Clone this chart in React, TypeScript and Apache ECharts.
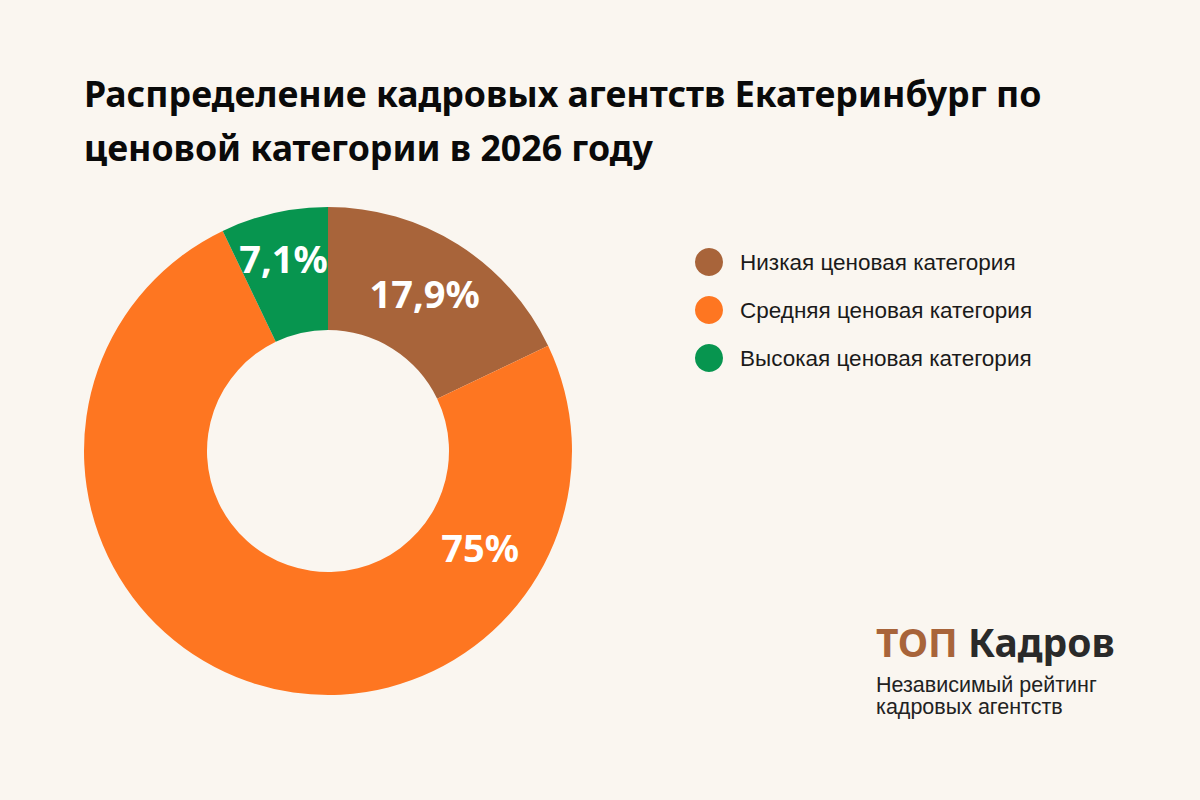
import React, { useEffect, useRef } from "react";
import * as echarts from "echarts";

const categories = [
  "Низкая ценовая категория",
  "Средняя ценовая категория",
  "Высокая ценовая категория",
];
const values = [17.9, 75, 7.1];
const valueLabels = ["17,9%", "75%", "7,1%"];
const colors = ["#A8643A", "#FE7621", "#07954F"];

const titleText =
  "Распределение кадровых агентств Екатеринбург по\nценовой категории в 2026 году";
const logoLines = ["Независимый рейтинг", "кадровых агентств"];

// label placement (angle in degrees, radius in px) for each slice
const labelAngles = [58.5, -32.3, 103];
const labelRadii = [185, 180, 198];

const CX = 328;
const CY = 451;

export default function App() {
  const ref = useRef<HTMLDivElement>(null);

  useEffect(() => {
    document.body.style.margin = "0";
    if (!ref.current) return;
    const chart = echarts.init(ref.current, undefined, { renderer: "svg" });
    chart.setOption({
      animation: false,
      backgroundColor: "#FAF6F0",
      title: {
        text: titleText,
        left: 84,
        top: 66,
        padding: 0,
        textStyle: {
          fontFamily: "Noto Sans",
          fontWeight: "bold",
          fontSize: 35.7,
          lineHeight: 54,
          color: "#0a0a0a",
        },
      },
      legend: {
        orient: "vertical",
        left: 695,
        top: 248,
        padding: 0,
        icon: "circle",
        itemWidth: 28,
        itemHeight: 28,
        itemGap: 20,
        textStyle: {
          fontFamily: "Liberation Sans",
          fontSize: 22.5,
          color: "#1a1a1a",
          padding: [0, 0, 0, 12],
        },
        data: categories,
      },
      series: [
        {
          type: "pie",
          center: [CX, CY],
          radius: [121, 244],
          startAngle: 90,
          clockwise: true,
          silent: true,
          data: categories.map((name, i) => ({
            name,
            value: values[i],
            itemStyle: { color: colors[i] },
            label: { formatter: valueLabels[i] },
          })),
          label: {
            show: true,
            position: "inside",
            color: "#ffffff",
            fontFamily: "Noto Sans",
            fontWeight: "bold",
            fontSize: 38,
          },
          labelLine: { show: false },
          labelLayout: (params: any) => {
            const i = params.dataIndex;
            const a = (labelAngles[i] * Math.PI) / 180;
            return {
              x: CX + labelRadii[i] * Math.cos(a),
              y: CY - labelRadii[i] * Math.sin(a),
              align: "center",
              verticalAlign: "middle",
            };
          },
        },
      ],
      graphic: [
        {
          type: "text",
          left: 876,
          top: 622,
          style: {
            text: "{a|ТОП}{s| }{b|Кадров}",
            rich: {
              a: {
                fontFamily: "Noto Sans",
                fontWeight: "bold",
                fontSize: 39,
                fill: "#A8643A",
              },
              s: {
                fontFamily: "Noto Sans",
                fontSize: 39,
                fill: "#2a2a2a",
              },
              b: {
                fontFamily: "Noto Sans",
                fontWeight: "bold",
                fontSize: 39,
                fill: "#2a2a2a",
              },
            },
          },
        },
        ...logoLines.map((t, i) => ({
          type: "text",
          left: 876,
          top: 674 + i * 22,
          style: {
            text: t,
            fontFamily: "Liberation Sans",
            fontSize: 21.5,
            fill: "#222222",
          },
        })),
      ],
    });
    return () => chart.dispose();
  }, []);

  return <div ref={ref} style={{ width: 1200, height: 800 }} />;
}
